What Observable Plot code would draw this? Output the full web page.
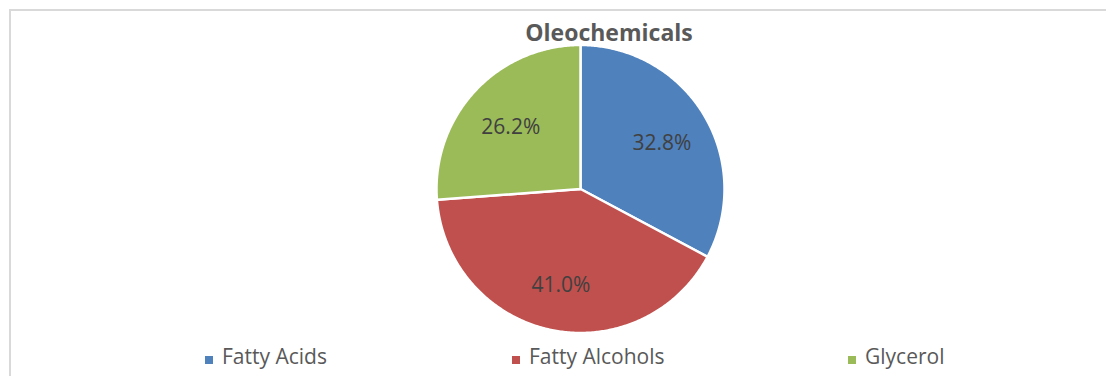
<!DOCTYPE html>
<html>
<head>
<meta charset="utf-8">
<script src="https://cdn.jsdelivr.net/npm/d3@7"></script>
<script src="https://cdn.jsdelivr.net/npm/@observablehq/plot@0.6"></script>
<style>
  html, body { margin: 0; padding: 0; background: #fff; }
  #wrap { position: relative; width: 1106px; height: 376px; overflow: hidden; font-family: "Open Sans", sans-serif; }
  #frame { position: absolute; left: 9px; top: 9px; width: 1110px; height: 380px; border-top: 2px solid #d9d9d9; border-left: 2px solid #d9d9d9; box-sizing: border-box; }
  #chart { position: absolute; left: 0; top: 0; }
  #title { position: absolute; left: 0; width: 1218px; top: 21px; text-align: center; font-size: 23px; line-height: 23px; font-weight: bold; color: #595959; }
  .leg { position: absolute; top: 346px; font-size: 21px; line-height: 21px; color: #595959; white-space: nowrap; }
  .sw { position: absolute; width: 8px; height: 8px; top: 355.5px; }
</style>
</head>
<body>
<div id="wrap">
  <div id="frame"></div>
  <div id="chart"></div>
  <div id="title"></div>
  <div id="legend"></div>
</div>
<script>
const title = "Oleochemicals";
const categories = ["Fatty Acids", "Fatty Alcohols", "Glycerol"];
const shares = [32.8, 41.0, 26.2];
const colors = ["#4F81BD", "#C0504D", "#9BBB59"];
const labels = ["32.8%", "41.0%", "26.2%"];

const W = 1106, H = 376;
const cx = 580, cy = 188.5, R = 144;

const data = categories.map((c, i) => ({category: c, value: shares[i], label: labels[i]}));
const arcs = d3.pie().sort(null).value(d => d.value).startAngle(0).endAngle(2 * Math.PI)(data);

// build slice outlines (unit circle coordinates)
const slicePts = [];
arcs.forEach(a => {
  const n = Math.max(2, Math.ceil((a.endAngle - a.startAngle) / 0.01));
  slicePts.push({category: a.data.category, x: 0, y: 0});
  for (let k = 0; k <= n; k++) {
    const t = a.startAngle + (a.endAngle - a.startAngle) * k / n;
    slicePts.push({category: a.data.category, x: Math.sin(t), y: Math.cos(t)});
  }
  slicePts.push({category: a.data.category, x: 0, y: 0});
});

const labelR = 0.66;
const labelPts = arcs.map(a => {
  const m = (a.startAngle + a.endAngle) / 2;
  return {label: a.data.label, x: labelR * Math.sin(m), y: labelR * Math.cos(m)};
});

const chart = Plot.plot({
  width: W,
  height: H,
  marginLeft: cx - R,
  marginRight: W - (cx + R),
  marginTop: cy - R,
  marginBottom: H - (cy + R),
  x: {domain: [-1, 1], axis: null},
  y: {domain: [-1, 1], axis: null},
  color: {domain: categories, range: colors},
  style: {background: "transparent", fontFamily: "Open Sans, sans-serif"},
  marks: [
    Plot.line(slicePts, {x: "x", y: "y", z: "category", fill: "category", stroke: "white", strokeWidth: 2.5, strokeLinejoin: "round"}),
    Plot.text(labelPts, {x: "x", y: "y", text: "label", fill: "#404040", fontSize: 21, dy: 3})
  ]
});
document.getElementById("chart").appendChild(chart);
document.getElementById("title").textContent = title;

// legend
const legendX = [205, 512, 848];
const legend = document.getElementById("legend");
categories.forEach((c, i) => {
  const sw = document.createElement("div");
  sw.className = "sw";
  sw.style.left = legendX[i] + "px";
  sw.style.background = colors[i];
  legend.appendChild(sw);
  const t = document.createElement("div");
  t.className = "leg";
  t.style.left = (legendX[i] + 17) + "px";
  t.textContent = c;
  legend.appendChild(t);
});
</script>
</body>
</html>
